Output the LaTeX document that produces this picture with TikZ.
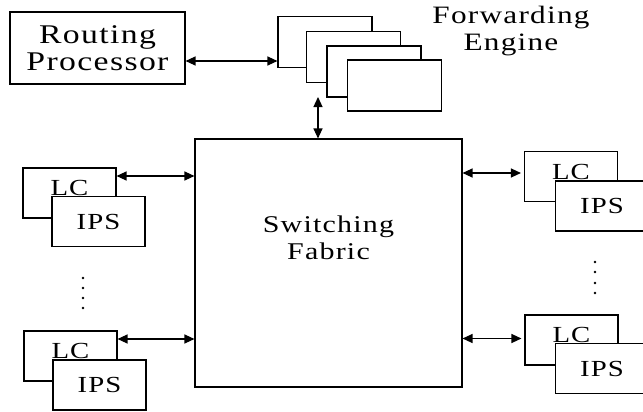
\documentclass[tikz,border=0pt]{standalone}
\usepackage{fontspec}
\setmainfont{Liberation Serif}[FakeStretch=1.25,LetterSpace=5]
\usetikzlibrary{arrows.meta}

\begin{document}
\begin{tikzpicture}[x=1pt,y=-1pt,
        box/.style={
            draw,
            rectangle,
            fill=white,
            line width=1.1pt,
            inner sep=0pt
        },
        febox/.style={box, minimum width=94pt, minimum height=51pt},
        lcbox/.style={box, minimum width=93pt, minimum height=50pt,
            font=\fontsize{23}{26}\selectfont, text depth=10pt},
        ipsbox/.style={box, minimum width=93pt, minimum height=50pt,
            font=\fontsize{23}{26}\selectfont},
        link/.style={{Triangle[length=10pt,width=9pt]}-{Triangle[length=10pt,width=9pt]},
            line width=1.2pt}
    ]
        \useasboundingbox (0,0) rectangle (643,412);

        % Routing processor and forwarding engines
        \node[box, minimum width=175pt, minimum height=72pt, align=center,
            font=\fontsize{27}{27}\selectfont] (rp) at (97.5,48) {Routing\\Processor};
        \node[febox] (fe1) at (325,42) {};
        \node[febox] (fe2) at (353.5,57) {};
        \node[febox] (fe3) at (374,71.5) {};
        \node[febox] (fe4) at (394.5,85.5) {};
        \node[align=center, font=\fontsize{25}{27}\selectfont] (fetext) at (511,31) {Forwarding\\Engine};

        % Switching fabric
        \node[box, minimum width=267pt, minimum height=248pt] (sf) at (328.5,263) {};
        \node[align=center, font=\fontsize{24}{27}\selectfont] (sftext) at (328.5,238) {Switching\\Fabric};

        % Line cards on the left
        \node[lcbox] (lc1) at (69.5,193) {LC};
        \node[ipsbox] (ips1) at (98.5,221.5) {IPS};
        \node[lcbox] (lc2) at (70.5,356) {LC};
        \node[ipsbox] (ips2) at (99.5,385) {IPS};

        % Line cards on the right
        \node[lcbox] (lc3) at (571,176.5) {LC};
        \node[ipsbox] (ips3) at (602,206) {IPS};
        \node[lcbox] (lc4) at (571.5,340) {LC};
        \node[ipsbox] (ips4) at (602,368.5) {IPS};

        % Arrows
        \draw[link] ([yshift=-13pt]rp.east) -- ([yshift=-13pt]rp.east -| fe1.west);
        \coordinate (fetip) at (318,97);
        \draw[link] (fetip) -- (fetip |- sf.north);
        \draw[link] ([yshift=17pt]lc1.east) -- ([yshift=17pt]lc1.east -| sf.west);
        \draw[link] ([yshift=17pt]lc2.east) -- ([yshift=17pt]lc2.east -| sf.west);
        \draw[link, shorten <=3pt] ([yshift=3.5pt]lc3.west) -- ([yshift=3.5pt]lc3.west -| sf.east);
        \draw[link, shorten <=3pt] ([yshift=1.5pt]lc4.west) -- ([yshift=1.5pt]lc4.west -| sf.east);

        % Vertical dots
        \foreach \y in {278,288,298,308} \fill (83,\y) circle (1.4pt);
        \foreach \y in {262,272,283,293} \fill (595,\y) circle (1.4pt);

    \end{tikzpicture}
\end{document}
